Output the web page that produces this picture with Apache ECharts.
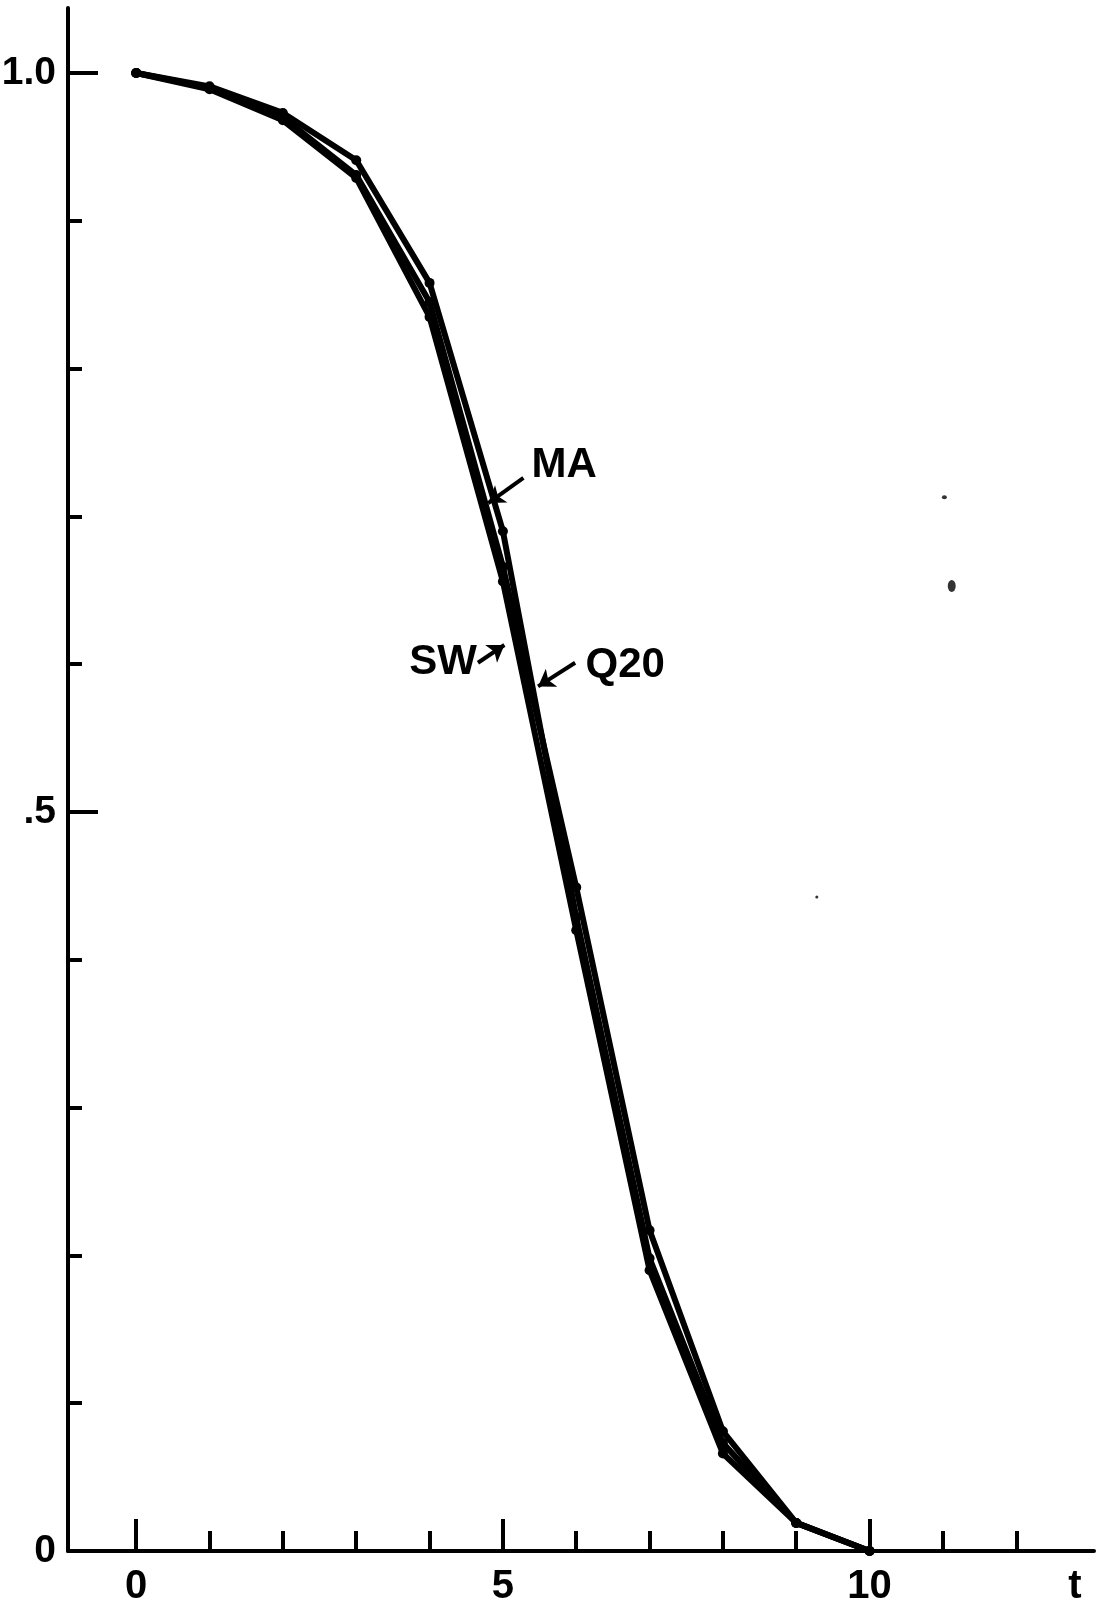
<!DOCTYPE html>
<html>
<head>
<meta charset="utf-8">
<script src="https://cdn.jsdelivr.net/npm/echarts@6/dist/echarts.min.js"></script>
<style>
html,body{margin:0;padding:0;background:#fff;}
#chart{width:1096px;height:1608px;}
</style>
</head>
<body>
<div id="chart"></div>
<script>
// ---- data ----
const tValues   = [0, 1, 2, 3, 4, 5, 6, 7, 8, 9, 10];
const maValues  = [1.0, 0.991, 0.973, 0.941, 0.858, 0.690, 0.429, 0.198, 0.073, 0.019, 0.0];
const q20Values = [1.0, 0.990, 0.970, 0.931, 0.845, 0.666, 0.449, 0.217, 0.081, 0.019, 0.0];
const swValues  = [1.0, 0.989, 0.968, 0.929, 0.835, 0.656, 0.420, 0.190, 0.066, 0.019, 0.0];
const specks    = [[11.12, 0.653], [11.02, 0.713], [9.28, 0.4425]];
const speckSizes = [[8, 12], [5, 4], [3, 3]];

const xMajorTicks = [0, 5, 10];
const xMinorTicks = [1, 2, 3, 4, 6, 7, 8, 9, 11, 12];
const xLabels = [{v: 0, s: '0'}, {v: 5, s: '5'}, {v: 10, s: '10'}, {v: 12.8, s: 't'}];
const yMajorTicks = [0.5, 1.0];
const yMinorTicks = [0.1, 0.2, 0.3, 0.4, 0.6, 0.7, 0.8, 0.9];
const yLabels = [{v: 0, s: '0'}, {v: 0.5, s: '.5'}, {v: 1.0, s: '1.0'}];

const curveLabels = [
  {name: 'MA',  at: [5.836, 0.7346]},
  {name: 'SW',  at: [4.185, 0.6015]},
  {name: 'Q20', at: [6.667, 0.5995]}
];
const leaders = [
  {from: [5.28, 0.726], to: [4.80, 0.709], curve: -0.3},
  {from: [4.66, 0.601], to: [5.02, 0.613], curve: 0.15},
  {from: [5.985, 0.601], to: [5.48, 0.585], curve: 0.1}
];

// ---- chart ----
const FONT = '"Liberation Sans", Arial, sans-serif';
const INK = '#000';
const X_MIN = -0.93, X_MAX = 13.06, Y_MIN = 0, Y_MAX = 1.044;

function pairs(vals) { return tValues.map((t, i) => [t, vals[i]]); }

const xLabelMap = {}; xLabels.forEach(o => xLabelMap[o.v] = o.s);
const yLabelMap = {}; yLabels.forEach(o => yLabelMap[o.v] = o.s);

const chart = echarts.init(document.getElementById('chart'), null, {renderer: 'canvas'});

const baseX = {type: 'value', min: X_MIN, max: X_MAX, splitLine: {show: false}, position: 'bottom'};
const baseY = {type: 'value', min: Y_MIN, max: Y_MAX, splitLine: {show: false}, position: 'left'};

const lineSeries = (name, vals) => ({
  name: name, type: 'line', data: pairs(vals),
  symbol: 'circle', symbolSize: 10, showSymbol: true,
  lineStyle: {color: INK, width: 6, cap: 'round', join: 'round'},
  itemStyle: {color: INK},
  animation: false, z: 5
});

const series = [
  lineSeries('MA', maValues),
  lineSeries('Q20', q20Values),
  lineSeries('SW', swValues),
  {
    name: 'specks', type: 'scatter',
    data: specks.map((p, i) => ({value: p, symbolSize: speckSizes[i]})),
    symbol: 'circle', itemStyle: {color: INK}, animation: false
  }
];

series[0].markPoint = {
  symbol: 'rect', symbolSize: 1,
  itemStyle: {color: 'rgba(0,0,0,0)'},
  label: {
    show: true, position: 'inside', formatter: '{b}', color: INK,
    fontFamily: FONT, fontSize: 42, fontWeight: 'bold'
  },
  data: curveLabels.map(c => ({name: c.name, coord: c.at})),
  animation: false
};
series[0].markLine = {
  silent: true,
  symbol: ['none', 'arrow'], symbolSize: [4, 16],
  label: {show: false},
  lineStyle: {color: INK, width: 4, type: 'solid', opacity: 1},
  itemStyle: {color: INK},
  data: leaders.map(l => [
    {coord: l.from, lineStyle: {curveness: l.curve}},
    {coord: l.to, symbol: 'arrow', symbolSize: 16}
  ]),
  animation: false,
  z: 10
};

const option = {
  backgroundColor: '#fff',
  animation: false,
  grid: {left: 68, top: 8, width: 1026, height: 1543, outerBoundsMode: 'none', containLabel: false},
  xAxis: [
    Object.assign({}, baseX, {
      axisLine: {show: true, onZero: false, lineStyle: {color: INK, width: 4}},
      axisTick: {show: true, inside: true, length: 32, customValues: xMajorTicks,
        lineStyle: {color: INK, width: 4}},
      axisLabel: {show: true, customValues: xLabels.map(o => o.v), margin: 16,
        formatter: v => xLabelMap[v] !== undefined ? xLabelMap[v] : '',
        color: INK, fontFamily: FONT, fontSize: 40, fontWeight: 'bold'}
    }),
    Object.assign({}, baseX, {
      axisLine: {show: false, onZero: false},
      axisTick: {show: true, inside: true, length: 20, customValues: xMinorTicks,
        lineStyle: {color: INK, width: 4}},
      axisLabel: {show: false}
    })
  ],
  yAxis: [
    Object.assign({}, baseY, {
      axisLine: {show: true, onZero: false, lineStyle: {color: INK, width: 4}},
      axisTick: {show: true, inside: true, length: 30, customValues: yMajorTicks,
        lineStyle: {color: INK, width: 4}},
      axisLabel: {show: true, customValues: yLabels.map(o => o.v), margin: 12,
        formatter: v => yLabelMap[v] !== undefined ? yLabelMap[v] : '',
        color: INK, fontFamily: FONT, fontSize: 39, fontWeight: 'bold'}
    }),
    Object.assign({}, baseY, {
      axisLine: {show: false, onZero: false},
      axisTick: {show: true, inside: true, length: 14, customValues: yMinorTicks,
        lineStyle: {color: INK, width: 4}},
      axisLabel: {show: false}
    })
  ],
  series: series
};

chart.setOption(option);
</script>
</body>
</html>
